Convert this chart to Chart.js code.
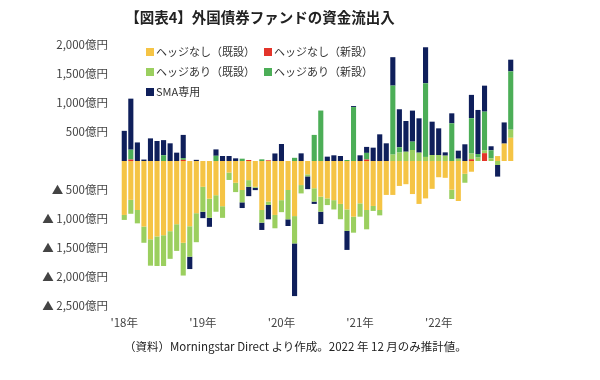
<!DOCTYPE html>
<html>
<head>
<meta charset="utf-8">
<script src="https://cdn.jsdelivr.net/npm/chart.js@4.4.1/dist/chart.umd.min.js"></script>
<style>
  html, body { margin:0; padding:0; background:#fff; }
  body { width:600px; height:380px; position:relative; overflow:hidden; font-family:"Noto Sans CJK JP","Noto Sans",sans-serif; }
  #wrap { position:absolute; left:0; top:0; width:600px; height:380px; }
  #title { position:absolute; left:0; width:520px; top:6px; text-align:center; font-size:14.5px; font-weight:bold; color:#222; }
  #caption { position:absolute; left:124px; top:338px; font-size:11.5px; color:#222; white-space:nowrap; }
  .lg { position:absolute; font-size:11px; color:#333; white-space:nowrap; line-height:14px; }
  .sw { display:inline-block; width:8px; height:8px; margin-right:2px; vertical-align:0px; }
</style>
</head>
<body>
<div id="wrap"><canvas id="c"></canvas></div>
<div id="title">【図表4】外国債券ファンドの資金流出入</div>
<div id="legend"></div>
<div id="caption">（資料）Morningstar Direct より作成。2022 年 12 月のみ推計値。</div>
<script>
const categories = [
 "2018-01","2018-02","2018-03","2018-04","2018-05","2018-06","2018-07","2018-08","2018-09","2018-10","2018-11","2018-12",
 "2019-01","2019-02","2019-03","2019-04","2019-05","2019-06","2019-07","2019-08","2019-09","2019-10","2019-11","2019-12",
 "2020-01","2020-02","2020-03","2020-04","2020-05","2020-06","2020-07","2020-08","2020-09","2020-10","2020-11","2020-12",
 "2021-01","2021-02","2021-03","2021-04","2021-05","2021-06","2021-07","2021-08","2021-09","2021-10","2021-11","2021-12",
 "2022-01","2022-02","2022-03","2022-04","2022-05","2022-06","2022-07","2022-08","2022-09","2022-10","2022-11","2022-12"
];
const yearTickLabels = { "2018-01":"'18年", "2019-01":"'19年", "2020-01":"'20年", "2021-01":"'21年", "2022-01":"'22年" };

const seriesNames = ["ヘッジなし（既設）","ヘッジなし（新設）","ヘッジあり（既設）","ヘッジあり（新設）","SMA専用"];

const unhedgedExisting = [
 -930,-670,-845,-1130,-1350,-1300,-1280,-1210,-1090,-1410,
 -1125,-900,-445,-650,-590,-780,-200,-375,-500,-330,
 -445,-845,-700,-930,-675,-500,-950,-415,-230,-470,
 -615,-645,-675,-740,-835,-960,-730,-845,-775,-845,
 -585,-585,-430,-400,-570,-740,-645,-480,-280,-290,
 -495,-690,-220,-185,0,0,0,85,300,400];
const unhedgedNew = [
 0,25,0,0,0,0,0,0,0,20,
 0,0,0,0,0,0,0,0,0,17,
 0,0,12,0,0,0,0,0,0,0,
 0,0,0,0,0,0,0,25,0,0,
 0,0,0,0,0,0,0,0,0,0,
 0,0,0,30,0,135,0,0,0,0];
const hedgedExisting = [
 -86,-240,-230,-280,-455,-510,-530,-477,-460,-565,
 -525,-500,-430,-330,-285,-200,-127,-161,-213,-115,
 -17,-218,-58,-230,-207,-506,-471,-144,-35,-230,
 -259,-115,-161,-264,-370,-276,-230,-333,-86,-92,
 0,110,145,160,190,144,70,103,103,92,
 -160,40,-155,98,60,46,45,-69,0,140];
const hedgedNew = [
 0,170,0,0,0,0,100,0,0,30,
 0,0,0,0,90,0,0,0,40,0,
 0,29,0,0,0,0,55,0,0,450,
 870,0,0,0,17,930,0,115,0,0,
 0,1190,92,0,144,0,1270,0,0,0,
 650,0,0,610,60,670,140,0,0,1006];
const smaOnly = [
 520,880,320,25,390,345,260,305,144,400,
 -213,20,-110,-155,110,86,86,46,-98,-161,
 -40,-126,-247,130,293,-115,-908,132,-220,-40,
 -213,75,98,86,-328,17,98,103,230,460,
 305,490,655,530,535,592,621,575,460,57,
 172,138,288,402,760,448,69,-200,365,201];

const colors = ["#F5C445","#E3342A","#9BCF5F","#4CAE57","#0F1F5B"];
const seriesData = [unhedgedExisting, unhedgedNew, hedgedExisting, hedgedNew, smaOnly];

// HTML legend
const legendPos = [[146,44],[264,44],[146,64],[264,64],[146,84]];
const legendEl = document.getElementById('legend');
seriesNames.forEach((n,i)=>{
  const d = document.createElement('div');
  d.className='lg';
  d.style.left = legendPos[i][0]+'px';
  d.style.top = legendPos[i][1]+'px';
  d.innerHTML = '<span class="sw" style="background:'+colors[i]+'"></span>'+n;
  legendEl.appendChild(d);
});

const fmt = v => Math.abs(v).toLocaleString('en-US');

new Chart(document.getElementById('c'), {
  type:'bar',
  data:{
    labels: categories,
    datasets: seriesData.map((d,i)=>({
      label: seriesNames[i], data: d, backgroundColor: colors[i],
      barPercentage: 0.78, categoryPercentage: 1.0, borderWidth:0
    }))
  },
  options:{
    responsive:true, maintainAspectRatio:false, animation:false,
    layout:{ padding:{ top:45, right:86, bottom:44, left:0 } },
    plugins:{ legend:{ display:false }, tooltip:{ enabled:false } },
    scales:{
      x:{
        stacked:true,
        grid:{ display:false, drawTicks:false }, border:{ display:false },
        ticks:{ autoSkip:false, maxRotation:0, minRotation:0, padding:10,
          color:'#444', font:{ family:'"Noto Sans CJK JP"', size:11.5 },
          callback:(v,i)=> yearTickLabels[categories[i]] || '' },
        afterFit:(s)=>{ s.height = 30; }
      },
      y:{
        stacked:true, min:-2500, max:2000,
        grid:{ display:false, drawTicks:false }, border:{ display:false },
        ticks:{ stepSize:500, padding:13, color:'#444',
          font:{ family:'"Noto Sans CJK JP"', size:11.5 },
          callback:(v)=> v===0 ? '' : (v<0 ? '▲ '+fmt(v)+'億円' : fmt(v)+'億円') },
        afterFit:(s)=>{ s.width = 121; }
      }
    }
  }
});
</script>
</body>
</html>
